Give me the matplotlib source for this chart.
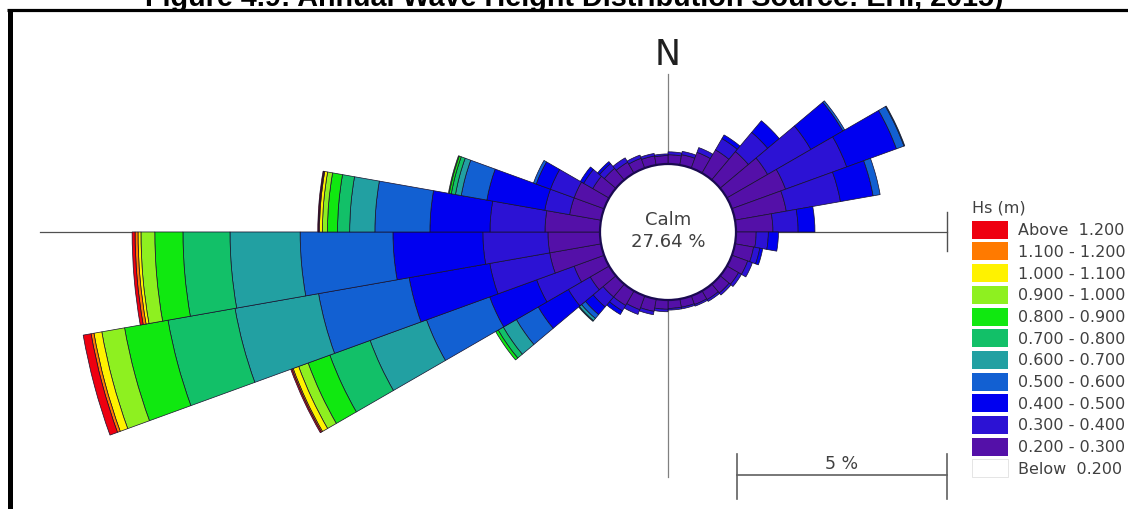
"""
Wave rose - annual Hs distribution, redrawn with matplotlib
"""

import numpy as np
import matplotlib.pyplot as plt
from matplotlib.patches import Wedge, Circle, Rectangle


title = 'Figure 4.9: Annual Wave Height Distribution Source: EHI, 2015)'
calm_pct = 27.64

# direction sectors, deg clockwise from north, 10 deg wide
sector_start = np.arange(0, 360, 10)

# frequency (%) per sector for each Hs class
hs_020_030 = [0.22, 0.25, 0.40, 0.64, 0.88, 1.12, 1.36, 1.24, 0.88, 0.48, 0.45, 0.40,
              0.32, 0.28, 0.24, 0.22, 0.20, 0.20, 0.22, 0.30, 0.35, 0.40, 0.40, 0.52,
              0.76, 1.24, 1.24, 1.31, 0.76, 0.76, 0.45, 0.36, 0.30, 0.25, 0.22, 0.20]
hs_030_040 = [0.07, 0.08, 0.12, 0.31, 0.60, 1.19, 1.55, 1.31, 0.60, 0.29, 0.15, 0.12,
              0.08, 0.06, 0.05, 0.04, 0.04, 0.04, 0.06, 0.08, 0.12, 0.15, 0.31, 0.60,
              0.95, 1.45, 1.55, 1.31, 0.60, 0.60, 0.25, 0.15, 0.12, 0.08, 0.06, 0.04]
hs_040_050 = [0, 0, 0, 0.10, 0.36, 0.88, 1.26, 0.79, 0.40, 0.24, 0.07, 0,
              0, 0, 0, 0, 0, 0, 0, 0, 0, 0.10, 0.24, 0.83,
              1.19, 1.95, 2.14, 1.43, 1.40, 0.36, 0.09, 0.06, 0, 0, 0, 0]
hs_050_060 = [0, 0, 0, 0, 0, 0.05, 0.19, 0.17, 0, 0, 0, 0,
              0, 0, 0, 0, 0, 0, 0, 0, 0, 0, 0.12, 0.60,
              1.60, 2.19, 2.21, 1.31, 0.62, 0.07, 0, 0, 0, 0, 0, 0]
hs_060_070 = [0, 0, 0, 0, 0, 0, 0.02, 0, 0, 0, 0, 0,
              0, 0, 0, 0, 0, 0, 0, 0, 0, 0, 0.07, 0.36,
              1.43, 2.02, 1.67, 0.60, 0.14, 0, 0, 0, 0, 0, 0, 0]
hs_070_080 = [0, 0, 0, 0, 0, 0, 0, 0, 0, 0, 0, 0,
              0, 0, 0, 0, 0, 0, 0, 0, 0, 0, 0.02, 0.14,
              1.02, 1.62, 1.12, 0.29, 0.10, 0, 0, 0, 0, 0, 0, 0]
hs_080_090 = [0, 0, 0, 0, 0, 0, 0, 0, 0, 0, 0, 0,
              0, 0, 0, 0, 0, 0, 0, 0, 0, 0, 0, 0.07,
              0.55, 1.05, 0.67, 0.24, 0.05, 0, 0, 0, 0, 0, 0, 0]
hs_090_100 = [0, 0, 0, 0, 0, 0, 0, 0, 0, 0, 0, 0,
              0, 0, 0, 0, 0, 0, 0, 0, 0, 0, 0, 0,
              0.24, 0.55, 0.33, 0.12, 0.02, 0, 0, 0, 0, 0, 0, 0]
hs_100_110 = [0, 0, 0, 0, 0, 0, 0, 0, 0, 0, 0, 0,
              0, 0, 0, 0, 0, 0, 0, 0, 0, 0, 0, 0,
              0.14, 0.19, 0.07, 0.07, 0, 0, 0, 0, 0, 0, 0, 0]
hs_110_120 = [0, 0, 0, 0, 0, 0, 0, 0, 0, 0, 0, 0,
              0, 0, 0, 0, 0, 0, 0, 0, 0, 0, 0, 0,
              0.03, 0.07, 0.07, 0.02, 0, 0, 0, 0, 0, 0, 0, 0]
hs_above_120 = [0, 0, 0, 0, 0, 0, 0, 0, 0, 0, 0, 0,
                0, 0, 0, 0, 0, 0, 0, 0, 0, 0, 0, 0,
                0.03, 0.19, 0.07, 0.02, 0, 0, 0, 0, 0, 0, 0, 0]

hs_classes = [hs_020_030, hs_030_040, hs_040_050, hs_050_060, hs_060_070, hs_070_080,
              hs_080_090, hs_090_100, hs_100_110, hs_110_120, hs_above_120]
hs_colors = ['#5410a8', '#2c12d4', '#0000f0', '#1260d2', '#22a0a2', '#12c068',
             '#10e810', '#8ef020', '#fff200', '#ff7a00', '#ee0010']

legend_labels = ['Above  1.200', '1.100 - 1.200', '1.000 - 1.100', '0.900 - 1.000',
                 '0.800 - 0.900', '0.700 - 0.800', '0.600 - 0.700', '0.500 - 0.600',
                 '0.400 - 0.500', '0.300 - 0.400', '0.200 - 0.300', 'Below  0.200']
legend_colors = hs_colors[::-1] + ['white']


W, H = 1128, 510
cx, cy = 668, 233      # rose centre in pixels
scale = 42.0           # pixels per percent
r_calm = 68 / scale    # calm circle radius (in % units)


def fx(x):
    return x / W


def fy(y):
    return 1 - y / H


def main():
    fig = plt.figure(figsize=(W / 100, H / 100), dpi=100)
    ax = fig.add_axes([0, 0, 1, 1])
    ax.set_xlim(-cx / scale, (W - cx) / scale)
    ax.set_ylim(-(H - cy) / scale, cy / scale)
    ax.axis('off')

    # axes cross
    ax.plot([-14.95, 6.64], [0, 0], color='#505050', lw=0.9, zorder=1)
    ax.plot([0, 0], [3.76, -5.83], color='#808080', lw=0.9, zorder=1)
    ax.plot([6.64, 6.64], [0.48, -0.45], color='#505050', lw=1.0, zorder=1)

    # stacked sectors
    for i, start in enumerate(sector_start):
        r = r_calm
        for vals, col in zip(hs_classes, hs_colors):
            v = vals[i]
            if v <= 0:
                continue
            w = Wedge((0, 0), r + v, 90 - (start + 10), 90 - start, width=v,
                      facecolor=col, edgecolor='#16102c', lw=0.5, zorder=2)
            ax.add_patch(w)
            r += v

    # calm circle
    ax.add_patch(Circle((0, 0), r_calm, facecolor='white', edgecolor='#1a0a50',
                        lw=1.6, zorder=3))
    ax.text(0, 0.32, 'Calm', ha='center', va='center', fontsize=13,
            color='#404040', zorder=4)
    ax.text(0, -0.22, '%.2f %%' % calm_pct, ha='center', va='center', fontsize=13,
            color='#404040', zorder=4)

    ax.text(0, 4.24, 'N', ha='center', va='center', fontsize=25, color='#202020')

    # 5 % scale bar
    ax.plot([1.64, 6.64], [-5.79, -5.79], color='#606060', lw=1.2)
    ax.plot([1.64, 1.64], [-5.29, -6.36], color='#606060', lw=1.2)
    ax.plot([6.64, 6.64], [-5.29, -6.36], color='#606060', lw=1.2)
    ax.text(4.14, -5.72, '5 %', ha='center', va='bottom', fontsize=12.5, color='#404040')

    # legend
    ax.text(fx(972), fy(208), 'Hs (m)', transform=ax.transAxes, ha='left',
            va='center', fontsize=11.5, color='#404040')
    for k, (lab, col) in enumerate(zip(legend_labels, legend_colors)):
        top = 221.7 + k * 21.7
        ax.add_patch(Rectangle((fx(972), fy(top + 18)), 36 / W, 18 / H,
                               transform=ax.transAxes, facecolor=col,
                               edgecolor='#e0e0e0' if col == 'white' else 'none',
                               lw=0.6, clip_on=False))
        ax.text(fx(1018), fy(top + 9), lab, transform=ax.transAxes, ha='left',
                va='center', fontsize=11.5, color='#404040')

    # page frame and cut-off caption
    ax.plot([fx(10), fx(10)], [fy(10), 0], transform=ax.transAxes, color='black',
            lw=3.6, clip_on=False, solid_capstyle='butt')
    ax.plot([fx(7), 1], [fy(11), fy(11)], transform=ax.transAxes, color='black',
            lw=2.3, clip_on=False, solid_capstyle='butt')
    fig.text(fx(574), fy(5.5), title, ha='center', va='baseline', fontsize=20.7,
             family='Liberation Sans', weight='bold', color='black')

    fig.savefig('out.png', dpi=100, facecolor='white')


if __name__ == '__main__':
    main()
